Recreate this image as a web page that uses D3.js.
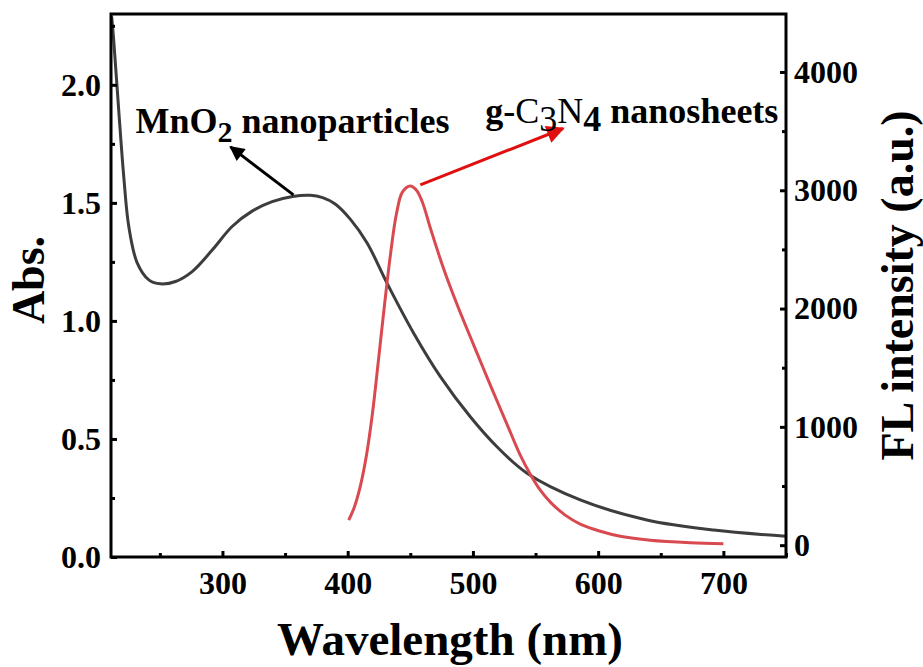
<!DOCTYPE html>
<html>
<head>
<meta charset="utf-8">
<script src="https://cdn.jsdelivr.net/npm/d3@7"></script>
<style>
  body { margin: 0; background: #fff; }
  text { font-family: "Liberation Serif", "Times New Roman", serif; font-weight: bold; }
</style>
</head>
<body>
<div id="chart"></div>
<script>
// absorbance of MnO2 (left axis)
const absWl  = [211.5, 213, 217.2, 221.2, 225.2, 231.9, 241.2, 250.5, 262.5, 275.8, 291.8, 307.7, 323.7, 339.7, 356, 370, 380, 390, 402.2, 415.5, 431.4, 452.7, 474, 497.9, 519.2, 543.2, 585.7, 638.9, 692.1, 750];
const absVal = [2.29, 2.2, 1.89, 1.61, 1.40, 1.246, 1.174, 1.157, 1.167, 1.209, 1.30, 1.40, 1.465, 1.505, 1.527, 1.532, 1.522, 1.495, 1.43, 1.33, 1.16, 0.948, 0.764, 0.594, 0.467, 0.355, 0.242, 0.157, 0.114, 0.088];

// fluorescence of g-C3N4 (right axis)
const flWl  = [400.8, 405.3, 410.1, 414.9, 419.6, 424.4, 429.3, 434.1, 438.9, 443.7, 450, 454.8, 459.6, 466, 476.4, 487.5, 500.3, 513.9, 527.5, 537.8, 545.8, 553.8, 561.8, 573.7, 585.7, 601.7, 617.6, 641.6, 673.5, 700];
const flVal = [211, 321, 499, 753, 1099, 1547, 2021, 2452, 2799, 2985, 3036, 3002, 2901, 2681, 2343, 2030, 1700, 1353, 1015, 761, 600, 465, 364, 254, 178, 118, 76, 42, 21, 13];

const xTicks = [300, 400, 500, 600, 700];
const yTicks = [0, 0.5, 1.0, 1.5, 2.0];
const y2Ticks = [0, 1000, 2000, 3000, 4000];

const W = 923, H = 667;
const mLeft = 111, mRight = 786, mTop = 14, mBottom = 557;

const x = d3.scaleLinear().domain([211, 750]).range([mLeft, mRight]);
const y = d3.scaleLinear().domain([0, 2.3]).range([mBottom, mTop]);
const y2 = d3.scaleLinear().domain([-100, 4490]).range([mBottom, mTop]);

const svg = d3.create('svg')
  .attr('width', W)
  .attr('height', H);

// curves
const absData = absWl.map((w, i) => [w, absVal[i]]);
const flData = flWl.map((w, i) => [w, flVal[i]]);

svg.append('path')
  .datum(absData)
  .attr('fill', 'none')
  .attr('stroke', '#3d3d3d')
  .attr('stroke-width', 3)
  .attr('d', d3.line().x(d => x(d[0])).y(d => y(d[1])).curve(d3.curveCatmullRom.alpha(0.5)));

svg.append('path')
  .datum(flData)
  .attr('fill', 'none')
  .attr('stroke', '#d94a50')
  .attr('stroke-width', 3)
  .attr('d', d3.line().x(d => x(d[0])).y(d => y2(d[1])).curve(d3.curveCatmullRom.alpha(0.5)));

// axes, ticks inward
const tickFont = 32;
const gx = svg.append('g')
  .attr('transform', `translate(0,${mBottom})`)
  .call(d3.axisBottom(x).tickValues(xTicks).tickSize(-6).tickPadding(14).tickFormat(d3.format('d')));
gx.append('g')
  .call(d3.axisBottom(x).tickValues([250, 350, 450, 550, 650, 750]).tickSize(-4).tickFormat(''));

const gy = svg.append('g')
  .attr('transform', `translate(${mLeft},0)`)
  .call(d3.axisLeft(y).tickValues(yTicks).tickSize(-6).tickPadding(10).tickFormat(d3.format('.1f')));
gy.append('g')
  .call(d3.axisLeft(y).tickValues([0.25, 0.75, 1.25, 1.75, 2.25]).tickSize(-4).tickFormat(''));

const gy2 = svg.append('g')
  .attr('transform', `translate(${mRight},0)`)
  .call(d3.axisRight(y2).tickValues(y2Ticks).tickSize(-6).tickPadding(8).tickFormat(d3.format('d')));
gy2.append('g')
  .call(d3.axisRight(y2).tickValues([500, 1500, 2500, 3500]).tickSize(-4).tickFormat(''));

svg.selectAll('.domain').remove();
svg.selectAll('.tick line').attr('stroke', '#000').attr('stroke-width', 3);
svg.selectAll('.tick text')
  .attr('font-size', tickFont)
  .attr('fill', '#000')
  .style('font-family', '"Liberation Serif", serif')
  .style('font-weight', 'bold');

// frame
svg.append('rect')
  .attr('x', mLeft).attr('y', mTop)
  .attr('width', mRight - mLeft).attr('height', mBottom - mTop)
  .attr('fill', 'none')
  .attr('stroke', '#000')
  .attr('stroke-width', 3);

// axis titles
svg.append('text')
  .attr('x', 450)
  .attr('y', 655)
  .attr('text-anchor', 'middle')
  .attr('font-size', 47)
  .text('Wavelength (nm)');

svg.append('text')
  .attr('transform', 'translate(44,280) rotate(-90)')
  .attr('text-anchor', 'middle')
  .attr('font-size', 46)
  .text('Abs.');

svg.append('text')
  .attr('transform', `translate(913,${(mTop + mBottom) / 2}) rotate(-90)`)
  .attr('text-anchor', 'middle')
  .attr('font-size', 46)
  .text('FL intensity (a.u.)');

// annotations
const defs = svg.append('defs');
[['headBlack', '#000', 6, 5], ['headRed', '#e01010', 7, 6]].forEach(([id, c, mw, mh]) => {
  defs.append('marker')
    .attr('id', id)
    .attr('viewBox', '0 0 10 10')
    .attr('refX', 9).attr('refY', 5)
    .attr('markerWidth', mw).attr('markerHeight', mh)
    .attr('markerUnits', 'strokeWidth')
    .attr('orient', 'auto')
    .append('path')
    .attr('d', 'M0,0 L10,5 L0,10 Z')
    .attr('fill', c);
});

svg.append('line')
  .attr('x1', x(356.7)).attr('y1', y(1.534))
  .attr('x2', x(306.4)).attr('y2', y(1.737))
  .attr('stroke', '#000').attr('stroke-width', 3)
  .attr('marker-end', 'url(#headBlack)');

svg.append('line')
  .attr('x1', x(458)).attr('y1', y(1.576))
  .attr('x2', x(572)).attr('y2', y(1.815))
  .attr('stroke', '#e01010').attr('stroke-width', 3)
  .attr('marker-end', 'url(#headRed)');

const t1 = svg.append('text')
  .attr('x', x(230.6)).attr('y', y(1.797))
  .attr('font-size', 36);
t1.append('tspan').text('MnO');
t1.append('tspan').attr('dy', 9).attr('font-size', 30).text('2');
t1.append('tspan').attr('dy', -9).text(' nanoparticles');

const t2 = svg.append('text')
  .attr('x', x(509.9)).attr('y', y(1.839))
  .attr('font-size', 36);
t2.append('tspan').text('g-');
t2.append('tspan').attr('font-weight', 'normal').text('C');
t2.append('tspan').attr('dy', 8).attr('font-weight', 'normal').text('3');
t2.append('tspan').attr('dy', -8).attr('font-weight', 'normal').text('N');
t2.append('tspan').attr('dy', 8).text('4');
t2.append('tspan').attr('dy', -8).text(' nanosheets');

d3.select('#chart').node().appendChild(svg.node());
</script>
</body>
</html>
